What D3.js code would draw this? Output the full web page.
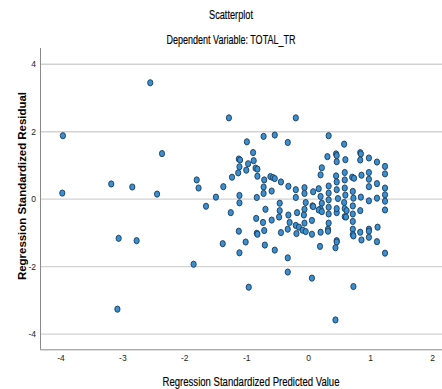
<!DOCTYPE html>
<html>
<head>
<meta charset="utf-8">
<script src="https://cdn.jsdelivr.net/npm/d3@7"></script>
<style>
  html, body { margin: 0; padding: 0; background: #fff; }
  svg { display: block; }
  text { font-family: "Liberation Sans Narrow", "Arial Narrow", "Liberation Sans", Arial, sans-serif; }
</style>
</head>
<body>
<svg id="chart" width="442" height="389"></svg>
<script>
// Tick values for both axes
const xTicks = [-4, -3, -2, -1, 0, 1, 2];
const yTicks = [-4, -2, 0, 2, 4];

// Standardized predicted values (x) and standardized residuals (y)
const predicted = [
  -2.55, -3.96, -2.36, -3.18, -2.84, -1.80, -3.97, -2.44, -1.77, -3.06, -2.77, -1.85, -3.08,
  -1.28, -0.20, -0.99, -0.72, -0.54, -0.33, -0.89, -1.12, -1.10, -0.88, -0.97, -1.11, -1.00,
  -0.85, -0.82, -1.13, -1.23, -0.82, -0.61, -0.57, -0.54, -0.71, -0.44, -0.32, -1.37, -1.49,
  -1.11, -1.11, -0.83, -0.72, -0.72, -0.59, -0.20, -0.20, -0.06, -0.06, -1.65, -0.46, -0.04,
  -0.46, -1.25, -0.69, -0.32, -0.18, -0.06, -0.07, -0.84, -0.73, -0.59, -0.47, -0.30, -0.06,
  -0.20, -0.15, -1.12, -0.83, -0.82, -0.71, -0.44, -0.33, -0.19, -0.09, -0.04, -1.38, -1.01,
  -0.70, -1.11, -0.54, -0.33, -0.33, -0.96,
  0.33, 0.58, 0.31, 0.45, 0.46, 0.46, 0.60, 0.84, 0.85, 0.84, 0.98, 1.11, 1.24, 1.24, 0.22,
  0.20, 0.45, 0.46, 0.59, 0.59, 0.71, 0.74, 0.86, 0.98, 0.98, 0.98, 1.11, 1.24, 1.24, 1.24,
  0.08, 0.17, 0.33, 0.33, 0.33, 0.46, 0.59, 0.60, 0.58, 0.72, 0.73, 0.72, 0.85, 0.98, 1.11,
  0.48, 0.20, 0.22, 0.07, 0.33,
  1.24, 0.08, 0.20, 0.17, 0.22, 0.33, 0.46, 0.46, 0.59, 0.62, 0.59, 0.61, 0.72, 0.72, 0.84,
  0.06, 0.06, 0.20, 0.33, 0.32, 0.32, 0.72, 0.72, 0.73, 0.84, 0.98, 0.98, 1.12, 0.86, 0.98,
  1.11, 0.46, 0.46, 0.19, 0.44, 1.24, 0.06, 0.73, 0.44
];
const residual = [
  3.45, 1.88, 1.35, 0.45, 0.36, 0.57, 0.18, 0.15, 0.33, -1.16, -1.23, -1.93, -3.26,
  2.41, 2.41, 1.70, 1.86, 1.90, 1.68, 1.38, 1.19, 1.16, 1.14, 1.05, 0.96, 0.86,
  0.92, 0.89, 0.78, 0.65, 0.68, 0.67, 0.64, 0.61, 0.57, 0.51, 0.38, 0.37, 0.06,
  0.11, -0.11, 0.05, 0.36, 0.17, 0.24, 0.28, 0.05, 0.34, 0.17, -0.21, -0.12, -0.10,
  -0.34, -0.40, -0.30, -0.47, -0.40, -0.30, -0.47, -0.57, -0.69, -0.62, -0.53, -0.69, -0.71,
  -0.78, -0.83, -0.95, -1.01, -1.04, -0.93, -0.99, -0.89, -1.02, -0.92, -0.96, -1.32, -1.27,
  -1.36, -1.59, -1.51, -1.74, -2.16, -2.61,
  1.88, 1.63, 1.26, 1.34, 1.29, 1.11, 1.17, 1.38, 1.34, 1.16, 1.22, 1.10, 0.97, 0.75, 0.93,
  0.72, 0.69, 0.51, 0.79, 0.57, 0.65, 0.62, 0.71, 0.79, 0.59, 0.37, 0.46, 0.33, 0.13, -0.06,
  0.22, 0.31, 0.39, 0.18, -0.02, 0.28, 0.33, 0.12, -0.10, 0.23, 0.03, -0.20, 0.06, -0.05, 0.03,
  0.02, 0.08, -0.12, -0.20, -0.24,
  -0.32, -0.22, -0.29, -0.32, -0.37, -0.44, -0.40, -0.28, -0.28, -0.34, -0.52, -0.53, -0.44, -0.66, -0.34,
  -0.63, -1.04, -0.98, -0.71, -0.89, -0.95, -0.89, -1.05, -1.09, -0.98, -0.89, -0.95, -0.83, -1.21, -1.13,
  -1.26, -1.23, -1.27, -1.40, -1.44, -1.60, -2.34, -2.59, -3.58
];

const points = predicted.map((p, i) => ({ x: p, y: residual[i] }));

const svg = d3.select("#chart");
const plot = { left: 40, right: 442, top: 48, bottom: 349.3 };

const x = d3.scaleLinear().domain([-4.33, 2.16]).range([plot.left, plot.right]);
const y = d3.scaleLinear().domain([-4.45, 4.48]).range([plot.bottom, plot.top]);

// Titles
svg.append("text")
  .attr("x", 231).attr("y", 19)
  .attr("text-anchor", "middle")
  .attr("font-size", 12.5).attr("fill", "#000")
  .attr("stroke", "#000").attr("stroke-width", 0.15)
  .attr("textLength", 44).attr("lengthAdjust", "spacingAndGlyphs")
  .text("Scatterplot");
svg.append("text")
  .attr("x", 231).attr("y", 44)
  .attr("text-anchor", "middle")
  .attr("font-size", 12.5).attr("fill", "#000")
  .attr("stroke", "#000").attr("stroke-width", 0.15)
  .attr("textLength", 129).attr("lengthAdjust", "spacingAndGlyphs")
  .text("Dependent Variable: TOTAL_TR");

// Horizontal gridlines
svg.append("g")
  .selectAll("line")
  .data(yTicks)
  .join("line")
  .attr("x1", plot.left).attr("x2", plot.right)
  .attr("y1", d => y(d)).attr("y2", d => y(d))
  .attr("stroke", "#d2d2d2").attr("stroke-width", 1.4);

// Axes
const xAxis = svg.append("g")
  .attr("transform", `translate(0,${plot.bottom})`)
  .call(d3.axisBottom(x).tickValues(xTicks).tickSize(0).tickPadding(6).tickFormat(d => String(d)));
const yAxis = svg.append("g")
  .attr("transform", `translate(${plot.left},0)`)
  .call(d3.axisLeft(y).tickValues(yTicks).tickSize(0).tickPadding(4).tickFormat(d => String(d)));

[xAxis, yAxis].forEach(g => {
  g.select(".domain").attr("stroke", "#8a8a8a").attr("stroke-width", 1);
  g.selectAll(".tick text")
    .attr("font-size", 8.5).attr("fill", "#222")
    .attr("font-family", "'Liberation Sans Narrow', 'Arial Narrow', 'Liberation Sans', sans-serif");
});
xAxis.select(".domain").attr("d", `M${plot.left},0.5H${plot.right}`);
yAxis.select(".domain").attr("d", `M0.5,${plot.top}V${plot.bottom}`);

// Axis titles
svg.append("text")
  .attr("x", 251).attr("y", 386)
  .attr("text-anchor", "middle")
  .attr("font-size", 12.5).attr("fill", "#000")
  .attr("stroke", "#000").attr("stroke-width", 0.15)
  .attr("textLength", 177).attr("lengthAdjust", "spacingAndGlyphs")
  .text("Regression Standardized Predicted Value");
svg.append("text")
  .attr("transform", "translate(26,186) rotate(-90)")
  .attr("text-anchor", "middle")
  .attr("font-size", 11.5).attr("font-weight", "bold").attr("fill", "#000")
  .attr("font-family", "'Liberation Sans', Arial, sans-serif")
  .attr("textLength", 188).attr("lengthAdjust", "spacingAndGlyphs")
  .text("Regression Standardized Residual");

// Scatter markers
svg.append("g")
  .selectAll("ellipse")
  .data(points)
  .join("ellipse")
  .attr("cx", d => x(d.x))
  .attr("cy", d => y(d.y))
  .attr("rx", 2.6).attr("ry", 3.1)
  .attr("fill", "#3a8fd0")
  .attr("stroke", "#1c3a58")
  .attr("stroke-width", 0.9);
</script>
</body>
</html>
